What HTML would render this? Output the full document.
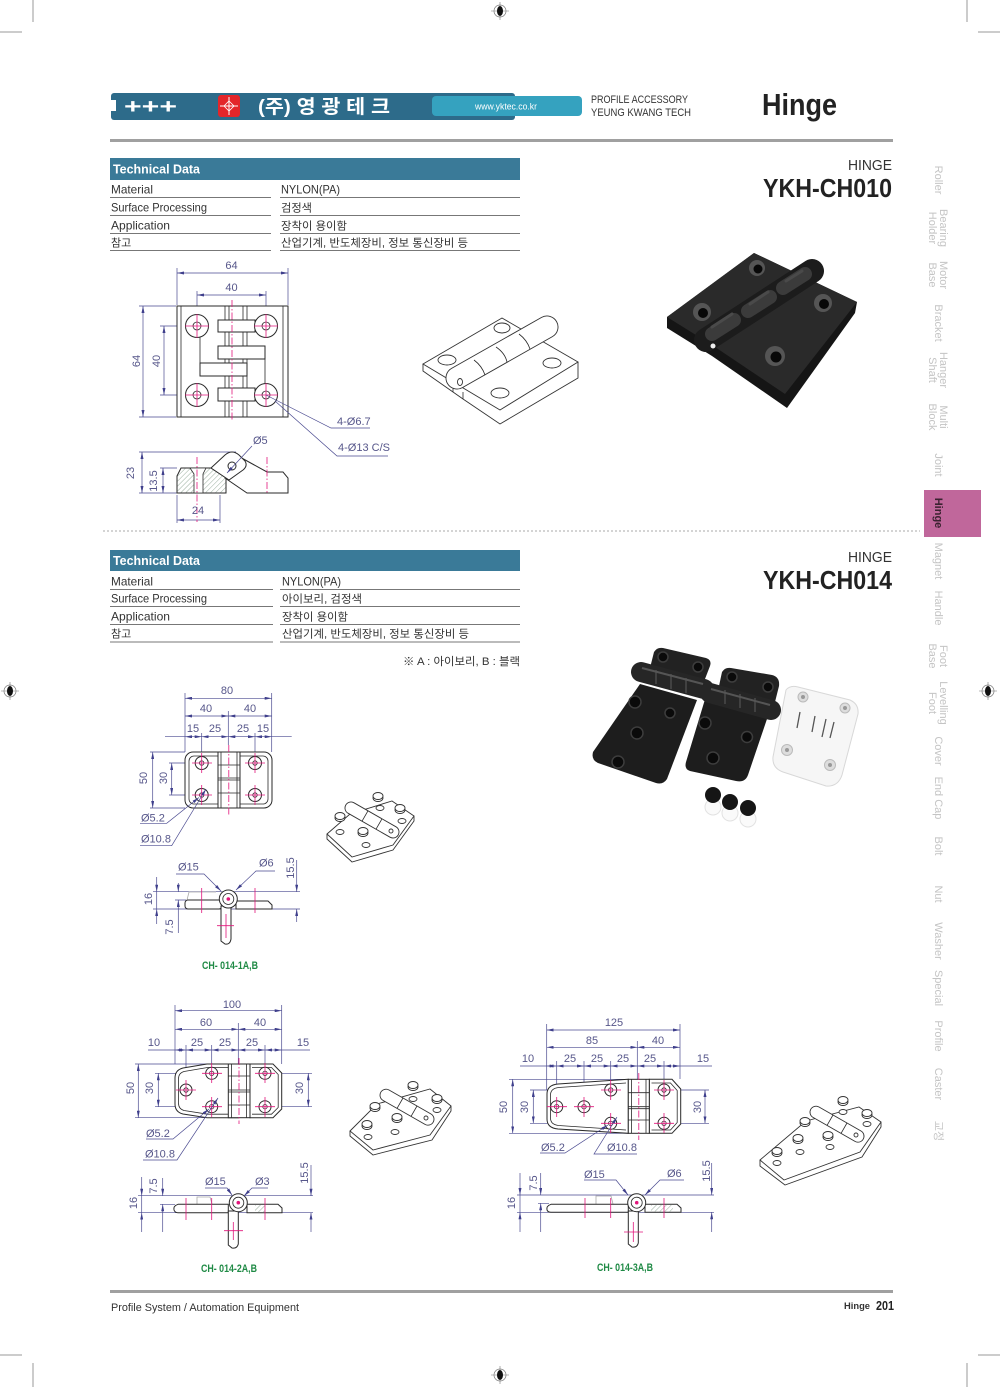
<!DOCTYPE html>
<html><head><meta charset="utf-8">
<style>
html,body{margin:0;padding:0;background:#fff;}
svg{display:block;}
</style></head><body>
<svg width="1000" height="1387" viewBox="0 0 1000 1387" xmlns="http://www.w3.org/2000/svg">
<defs>
<marker id="ar" viewBox="0 0 7 3" refX="7" refY="1.5" markerWidth="7" markerHeight="3" markerUnits="userSpaceOnUse" orient="auto-start-reverse"><path d="M0,0L7,1.5L0,3z" fill="#3f3f8c"/></marker>
<pattern id="hat" width="3.5" height="3.5" patternUnits="userSpaceOnUse" patternTransform="rotate(45)"><rect width="3.5" height="3.5" fill="#fff"/><line x1="0" y1="0" x2="0" y2="3.5" stroke="#7f9a85" stroke-width="0.8"/></pattern>
</defs>
<style>
.o{fill:#fff;stroke:#2a2a2a;stroke-width:1}
.n{fill:none;stroke:#2a2a2a;stroke-width:0.8}
.d{stroke:#4a4a90;stroke-width:0.7;fill:none}
.a{stroke:#4a4a90;stroke-width:0.7;fill:none;marker-start:url(#ar);marker-end:url(#ar)}
.e{stroke:#4a4a90;stroke-width:0.7;fill:none;marker-end:url(#ar)}
.c{stroke:#e2167c;stroke-width:0.8;fill:none}
.cd{stroke:#e2167c;stroke-width:0.8;fill:none;stroke-dasharray:7 2 1.5 2}
.t{font-family:"Liberation Sans",sans-serif;font-size:11px;fill:#56568a}
.g{font-family:"Liberation Sans",sans-serif;font-size:11px;font-weight:bold;fill:#1f8a45}
.nv{font-family:"Liberation Sans","Noto Sans CJK KR",sans-serif;font-size:11px;fill:#c4c4c4}
.tb{font-family:"Liberation Sans","Noto Sans CJK KR",sans-serif;font-size:12px;fill:#333}
.tk{font-family:"Liberation Sans","Noto Sans CJK KR",sans-serif;font-size:11px;fill:#333}
.i{fill:#fff;stroke:#333;stroke-width:0.9}
.rg{fill:#fff;stroke:#777;stroke-width:0.7}
</style>

<!-- crop marks -->
<g stroke="#999" stroke-width="1">
<line x1="33" y1="0" x2="33" y2="22"/><line x1="967" y1="0" x2="967" y2="22"/>
<line x1="0" y1="32" x2="22" y2="32"/><line x1="978" y1="32" x2="1000" y2="32"/>
<line x1="33" y1="1363" x2="33" y2="1387"/><line x1="967" y1="1363" x2="967" y2="1387"/>
<line x1="0" y1="1355" x2="22" y2="1355"/><line x1="978" y1="1355" x2="1000" y2="1355"/>
</g>
<g>
<g transform="translate(500,11)"><circle class="rg" r="6"/><path d="M-9,0H9M0,-9V9" stroke="#777" stroke-width="0.6"/><ellipse rx="3" ry="5" fill="#111"/></g>
<g transform="translate(500,1375)"><circle class="rg" r="6"/><path d="M-9,0H9M0,-9V9" stroke="#777" stroke-width="0.6"/><ellipse rx="3" ry="5" fill="#111"/></g>
<g transform="translate(10,691)"><circle class="rg" r="6"/><path d="M-9,0H9M0,-9V9" stroke="#777" stroke-width="0.6"/><ellipse rx="3" ry="5" fill="#111"/></g>
<g transform="translate(988,691)"><circle class="rg" r="6"/><path d="M-9,0H9M0,-9V9" stroke="#777" stroke-width="0.6"/><ellipse rx="3" ry="5" fill="#111"/></g>
</g>

<!-- header -->
<rect x="111" y="93" width="404" height="27" rx="3" fill="#2d6b8a"/>
<rect x="111" y="100" width="5" height="11" fill="#fff"/>
<text x="124" y="113" font-family="Liberation Sans,sans-serif" font-size="20" font-weight="bold" fill="#fff" textLength="53" lengthAdjust="spacingAndGlyphs">+++</text>
<rect x="218" y="95" width="22" height="22" rx="3" fill="#e3262a"/>
<path d="M229,97V115M220,106H238" stroke="#fff" stroke-width="1"/>
<path d="M229,101L234,106L229,111L224,106Z" fill="none" stroke="#fff" stroke-width="0.8"/>
<text x="258" y="113" font-family="Liberation Sans,'Noto Sans CJK KR',sans-serif" font-size="19" font-weight="bold" fill="#fff" textLength="132" lengthAdjust="spacingAndGlyphs">(주) 영 광 테 크</text>
<rect x="432" y="96" width="150" height="20" rx="4" fill="#35a2bf"/>
<text x="506" y="109.5" text-anchor="middle" font-family="Liberation Sans,sans-serif" font-size="9" fill="#fff" textLength="62" lengthAdjust="spacingAndGlyphs">www.yktec.co.kr</text>
<text x="591" y="103" font-family="Liberation Sans,sans-serif" font-size="11" fill="#333" textLength="97" lengthAdjust="spacingAndGlyphs">PROFILE ACCESSORY</text>
<text x="591" y="116" font-family="Liberation Sans,sans-serif" font-size="11" fill="#333" textLength="100" lengthAdjust="spacingAndGlyphs">YEUNG KWANG TECH</text>
<text x="762" y="115" font-family="Liberation Sans,sans-serif" font-size="31" font-weight="bold" fill="#222" textLength="75" lengthAdjust="spacingAndGlyphs">Hinge</text>
<rect x="110" y="139" width="783" height="3" fill="#a0a0a0"/>

<!-- table 1 -->
<rect x="110" y="158" width="410" height="22" fill="#3a7a98"/>
<text x="113" y="173.5" font-family="Liberation Sans,sans-serif" font-size="12.5" font-weight="bold" fill="#fff" textLength="87" lengthAdjust="spacingAndGlyphs">Technical Data</text>
<g class="tb">
<text x="111" y="193.5" textLength="42" lengthAdjust="spacingAndGlyphs">Material</text>
<text x="111" y="211.5" textLength="96" lengthAdjust="spacingAndGlyphs">Surface Processing</text>
<text x="111" y="229.5" textLength="59" lengthAdjust="spacingAndGlyphs">Application</text>
<text x="111" y="246.5" class="tk">참고</text>
<text x="281" y="193.5" textLength="59" lengthAdjust="spacingAndGlyphs">NYLON(PA)</text>
</g>
<g class="tk">
<text x="281" y="211.5" textLength="31" lengthAdjust="spacingAndGlyphs">검정색</text>
<text x="281" y="229.5" textLength="66" lengthAdjust="spacingAndGlyphs">장착이 용이함</text>
<text x="281" y="246.5" textLength="187" lengthAdjust="spacingAndGlyphs">산업기계, 반도체장비, 정보 통신장비 등</text>
</g>
<path d="M110,197.5H271M280,197.5H520M110,215.5H271M280,215.5H520M110,233.5H271M280,233.5H520M110,250.5H271M280,250.5H520" stroke="#777" stroke-width="1"/>
<text x="892" y="170" text-anchor="end" font-family="Liberation Sans,sans-serif" font-size="15" fill="#333" textLength="44" lengthAdjust="spacingAndGlyphs">HINGE</text>
<text x="892" y="197" text-anchor="end" font-family="Liberation Sans,sans-serif" font-size="26" font-weight="bold" fill="#222" textLength="129" lengthAdjust="spacingAndGlyphs">YKH-CH010</text>

<!-- side nav -->
<rect x="924" y="490" width="57" height="47" fill="#c0679b"/>
<g class="nv" text-anchor="middle" dominant-baseline="central">
<text transform="translate(938,180) rotate(90)">Roller</text>
<text transform="translate(943,228) rotate(90)">Bearing</text><text transform="translate(932,228) rotate(90)">Holder</text>
<text transform="translate(943,275) rotate(90)">Motor</text><text transform="translate(932,275) rotate(90)">Base</text>
<text transform="translate(938,323) rotate(90)">Bracket</text>
<text transform="translate(943,370) rotate(90)">Hanger</text><text transform="translate(932,370) rotate(90)">Shaft</text>
<text transform="translate(943,417) rotate(90)">Multi</text><text transform="translate(932,417) rotate(90)">Block</text>
<text transform="translate(938,465) rotate(90)">Joint</text>
<text transform="translate(938,561) rotate(90)">Magnet</text>
<text transform="translate(938,608) rotate(90)">Handle</text>
<text transform="translate(943,656) rotate(90)">Foot</text><text transform="translate(932,656) rotate(90)">Base</text>
<text transform="translate(943,703) rotate(90)">Levelling</text><text transform="translate(932,703) rotate(90)">Foot</text>
<text transform="translate(938,751) rotate(90)">Cover</text>
<text transform="translate(938,798) rotate(90)">End Cap</text>
<text transform="translate(938,846) rotate(90)">Bolt</text>
<text transform="translate(938,894) rotate(90)">Nut</text>
<text transform="translate(938,941) rotate(90)">Washer</text>
<text transform="translate(938,988) rotate(90)">Special</text>
<text transform="translate(938,1036) rotate(90)">Profile</text>
<text transform="translate(938,1084) rotate(90)">Caster</text>
<text transform="translate(938,1131) rotate(90)">교정</text>
</g>
<text transform="translate(938,513) rotate(90)" text-anchor="middle" dominant-baseline="central" font-family="Liberation Sans,sans-serif" font-size="11" font-weight="bold" fill="#3a2230">Hinge</text>

<!-- ===== Drawing 1 (YKH-CH010) ===== -->
<path class="d" d="M177,268V305M288,268V305M197,291V314M266,291V314M139,306H176M139,417H176M160,326H185M160,395H185"/>
<line class="a" x1="177" y1="273" x2="288" y2="273"/>
<line class="a" x1="197" y1="295" x2="266" y2="295"/>
<line class="a" x1="143" y1="306" x2="143" y2="417"/>
<line class="a" x1="164" y1="326" x2="164" y2="395"/>
<text class="t" x="231.5" y="269" text-anchor="middle">64</text>
<text class="t" x="231.5" y="291" text-anchor="middle">40</text>
<text class="t" text-anchor="middle" transform="translate(140,361) rotate(-90)">64</text>
<text class="t" text-anchor="middle" transform="translate(160,361) rotate(-90)">40</text>
<rect class="o" x="177" y="306" width="111" height="111"/>
<path class="n" d="M181,306V417M283,306V417M225,306V417M247,306V417M229,306V417M243,306V417M200,332V363M265,359V388"/>
<rect class="o" x="218" y="320" width="37" height="12"/>
<rect class="o" x="218" y="346" width="47" height="13"/>
<rect class="o" x="200" y="363" width="47" height="13"/>
<rect class="o" x="218" y="388" width="37" height="13"/>
<circle class="o" cx="197" cy="326" r="11.5"/><circle class="n" cx="197" cy="326" r="4"/>
<circle class="o" cx="266" cy="326" r="11.5"/><circle class="n" cx="266" cy="326" r="4"/>
<circle class="o" cx="197" cy="395" r="11.5"/><circle class="n" cx="197" cy="395" r="4"/>
<circle class="o" cx="266" cy="395" r="11.5"/><circle class="n" cx="266" cy="395" r="4"/>
<path class="c" d="M197,314V338M185,326H209M266,314V338M254,326H278M197,383V407M185,395H209M266,383V407M254,395H278"/>
<line class="cd" x1="232" y1="300" x2="232" y2="421"/>
<polyline class="d" points="266,395 331,428 370,428"/>
<polyline class="d" points="275,401 337,456 388,456"/>
<text class="t" x="337" y="425">4-Ø6.7</text>
<text class="t" x="338" y="451">4-Ø13 C/S</text>
<!-- side view -->
<path class="d" d="M139,452H236M139,493H177M160,468H177M177,495V523M220,495V523"/>
<line class="a" x1="142" y1="452" x2="142" y2="493"/>
<line class="a" x1="163" y1="468" x2="163" y2="493"/>
<line class="a" x1="177" y1="520" x2="220" y2="520"/>
<path d="M177,476L181,468H213L226,477V493H177Z" fill="url(#hat)" stroke="#2a2a2a" stroke-width="1"/>
<path d="M190,468H206L203,474V493H194V474Z" fill="#fff" stroke="#2a2a2a" stroke-width="0.8"/>
<path class="o" d="M238,456L267,472H283L288,478V493H247L225,478Z"/>
<path class="o" d="M211,468L225,455Q232,449 239,455L245,461Q248,466 243,470L229,480Z"/>
<circle class="o" cx="232" cy="466" r="4"/>
<path class="cd" d="M197,457V522M267,457V493"/>
<text class="t" text-anchor="middle" transform="translate(134,473) rotate(-90)">23</text>
<text class="t" text-anchor="middle" transform="translate(157,481) rotate(-90)">13.5</text>
<text class="t" x="198" y="514" text-anchor="middle">24</text>
<text class="t" x="253" y="444">Ø5</text>
<line class="e" x1="252" y1="446" x2="227" y2="473"/>

<!-- iso line drawing 1 -->
<path class="i" d="M423,364V371L453,392L463,399L500,424L578,378V362"/>
<path class="n" d="M453,392L453,385M463,399V392"/>
<path class="i" d="M423,364L502,318L578,362L500,410Z"/>
<ellipse class="i" cx="447" cy="360" rx="9" ry="5"/>
<ellipse class="i" cx="552" cy="363" rx="9" ry="5"/>
<ellipse class="i" cx="500" cy="393" rx="9" ry="5"/>
<ellipse class="i" cx="502" cy="328" rx="8" ry="5"/>
<path class="i" d="M451.6,368.4L541.6,317.4A11,11 0 0 1 552.4,336.6L462.4,387.6A11,11 0 0 1 451.6,368.4Z"/>
<path class="n" d="M474,360Q482,366 485,375M496,347Q505,353 507,362M519,334Q527,340 530,349"/>
<ellipse class="i" cx="460" cy="382" rx="2.5" ry="3.5"/>

<!-- photo 1 -->
<path d="M667,317L754,253L813,281L857,302L855,313L787,408L712,356L667,328Z" fill="#151515"/>
<path d="M667,317L754,253L857,302L785,394L712,345Z" fill="#2a2a2a"/>
<line x1="706" y1="340" x2="812" y2="271" stroke="#1c1c1c" stroke-width="24" stroke-linecap="round"/>
<path d="M712,334L734,320M748,311L770,297M783,288L805,274" stroke="#3b3b3b" stroke-width="14" stroke-linecap="round"/>
<path d="M712,327L732,314M750,304L768,292M786,281L802,271" stroke="#4a4a4a" stroke-width="3" stroke-linecap="round"/>
<circle cx="702" cy="312" r="9" fill="#555"/><circle cx="703" cy="313" r="5" fill="#080808"/>
<circle cx="757" cy="268" r="8" fill="#555"/><circle cx="758" cy="269" r="4.5" fill="#080808"/>
<circle cx="823" cy="303" r="9" fill="#555"/><circle cx="824" cy="304" r="5" fill="#080808"/>
<circle cx="775" cy="356" r="10" fill="#555"/><circle cx="776" cy="357" r="5.5" fill="#080808"/>
<circle cx="713" cy="346" r="2.5" fill="#eee"/>

<!-- separator -->
<line x1="103" y1="531" x2="920" y2="531" stroke="#aaa" stroke-width="1" stroke-dasharray="2 2"/>

<!-- table 2 -->
<rect x="110" y="550" width="410" height="21" fill="#3a7a98"/>
<text x="113" y="565" font-family="Liberation Sans,sans-serif" font-size="12.5" font-weight="bold" fill="#fff" textLength="87" lengthAdjust="spacingAndGlyphs">Technical Data</text>
<g class="tb">
<text x="111" y="585.5" textLength="42" lengthAdjust="spacingAndGlyphs">Material</text>
<text x="111" y="602.5" textLength="96" lengthAdjust="spacingAndGlyphs">Surface Processing</text>
<text x="111" y="620.5" textLength="59" lengthAdjust="spacingAndGlyphs">Application</text>
<text x="111" y="637.5" class="tk">참고</text>
<text x="282" y="585.5" textLength="59" lengthAdjust="spacingAndGlyphs">NYLON(PA)</text>
</g>
<g class="tk">
<text x="282" y="602.5" textLength="80" lengthAdjust="spacingAndGlyphs">아이보리, 검정색</text>
<text x="282" y="620.5" textLength="66" lengthAdjust="spacingAndGlyphs">장착이 용이함</text>
<text x="282" y="637.5" textLength="187" lengthAdjust="spacingAndGlyphs">산업기계, 반도체장비, 정보 통신장비 등</text>
<text x="520" y="665" text-anchor="end" textLength="117" lengthAdjust="spacingAndGlyphs">※ A : 아이보리, B : 블랙</text>
</g>
<path d="M110,589.5H273M280,589.5H520M110,606.5H273M280,606.5H520M110,624.5H273M280,624.5H520M110,642H273M280,642H520" stroke="#777" stroke-width="1"/>
<text x="892" y="562" text-anchor="end" font-family="Liberation Sans,sans-serif" font-size="15" fill="#333" textLength="44" lengthAdjust="spacingAndGlyphs">HINGE</text>
<text x="892" y="589" text-anchor="end" font-family="Liberation Sans,sans-serif" font-size="26" font-weight="bold" fill="#222" textLength="129" lengthAdjust="spacingAndGlyphs">YKH-CH014</text>

<!-- photo 2 -->
<path d="M640,684L697,700L667,779Q663,785 656,783L598,763Q591,760 593,752Z" fill="#1d1d1d"/>
<path d="M648,676L654,652Q657,647 663,648L706,658Q712,660 710,666L700,692Z" fill="#222"/>
<line x1="641" y1="672" x2="704" y2="689" stroke="#262626" stroke-width="20" stroke-linecap="round"/>
<path d="M656,670V684M671,674V689M686,678V693" stroke="#4a4a4a" stroke-width="1.5"/>
<path d="M642,668L703,684" stroke="#555" stroke-width="2"/>
<path d="M706,696L768,716L748,775Q745,783 736,781L690,771Q684,769 686,762Z" fill="#1d1d1d"/>
<path d="M716,700L722,672Q725,667 731,668L772,675Q780,677 779,686L771,718Z" fill="#222"/>
<line x1="710" y1="693" x2="771" y2="710" stroke="#262626" stroke-width="20" stroke-linecap="round"/>
<path d="M725,690V704M740,694V708M755,698V712" stroke="#4a4a4a" stroke-width="1.5"/>
<path d="M711,689L770,705" stroke="#555" stroke-width="2"/>
<g fill="#0a0a0a" stroke="#3d3d3d" stroke-width="1.5">
<circle cx="663" cy="657" r="5"/><circle cx="698" cy="667" r="5"/><circle cx="635" cy="702" r="6"/><circle cx="670" cy="713" r="5"/><circle cx="637" cy="733" r="6"/><circle cx="618" cy="762" r="6"/>
<circle cx="732" cy="677" r="5"/><circle cx="768" cy="687" r="5"/><circle cx="705" cy="723" r="6"/><circle cx="747" cy="737" r="5.5"/><circle cx="713" cy="758" r="6"/>
</g>
<path d="M786,690Q790,685 798,687L850,700Q859,704 858,714L842,775Q838,787 826,786L783,772Q772,768 773,757Z" fill="#f6f6f6" stroke="#d8d8d8" stroke-width="1"/>
<path d="M800,712L797,728M815,716L812,732M826,719L822,737M834,722L830,738" stroke="#555" stroke-width="1.3"/>
<g fill="#ddd" stroke="#bbb" stroke-width="1"><circle cx="803" cy="697" r="5"/><circle cx="845" cy="708" r="5"/><circle cx="787" cy="750" r="5.5"/><circle cx="830" cy="765" r="5.5"/></g>
<g fill="#999"><circle cx="803" cy="697" r="2"/><circle cx="845" cy="708" r="2"/><circle cx="787" cy="750" r="2"/><circle cx="830" cy="765" r="2"/></g>
<g fill="#fafafa" stroke="#e2e2e2" stroke-width="1"><circle cx="713" cy="807" r="8"/><circle cx="730" cy="813" r="8"/><circle cx="748" cy="819" r="8"/></g>
<g fill="#151515"><circle cx="713" cy="795" r="8"/><circle cx="730" cy="802" r="8"/><circle cx="748" cy="808" r="8"/></g>

<!-- ===== CH-014-1 ===== -->
<path class="d" d="M185,693V752M271.7,693V752M228.3,711V745M201.7,733V757M255,733V757M165,736.7H185M271.7,736.7H291.7M150,752H185M150,808H185M169,763H196M169,795H196"/>
<line class="a" x1="185" y1="698.3" x2="271.7" y2="698.3"/>
<line class="a" x1="185" y1="716" x2="228.3" y2="716"/>
<line class="a" x1="228.3" y1="716" x2="271.7" y2="716"/>
<line class="a" x1="185" y1="736.7" x2="201.7" y2="736.7"/>
<line class="a" x1="201.7" y1="736.7" x2="228.3" y2="736.7"/>
<line class="a" x1="228.3" y1="736.7" x2="255" y2="736.7"/>
<line class="a" x1="255" y1="736.7" x2="271.7" y2="736.7"/>
<line class="a" x1="152.7" y1="752" x2="152.7" y2="808"/>
<line class="a" x1="171.7" y1="763" x2="171.7" y2="795"/>
<g class="t" text-anchor="middle">
<text x="227" y="694">80</text><text x="206" y="712">40</text><text x="250" y="712">40</text>
<text x="193" y="732">15</text><text x="215" y="732">25</text><text x="243" y="732">25</text><text x="263" y="732">15</text>
<text transform="translate(147,778) rotate(-90)">50</text>
<text transform="translate(167,778) rotate(-90)">30</text>
</g>
<rect class="o" x="185" y="752" width="87" height="56" rx="8"/>
<rect class="n" x="189" y="756" width="79" height="48" rx="5"/>
<rect class="o" x="218" y="752" width="22" height="56"/>
<path class="n" d="M221,752V808M237,752V808M218,765H240M218,778H240M218,780H240M218,793H240"/>
<g>
<circle class="o" cx="201.7" cy="763" r="6.5"/><circle class="n" cx="201.7" cy="763" r="2.2"/>
<circle class="o" cx="255" cy="763" r="6.5"/><circle class="n" cx="255" cy="763" r="2.2"/>
<circle class="o" cx="201.7" cy="795" r="6.5"/><circle class="n" cx="201.7" cy="795" r="2.2"/>
<circle class="o" cx="255" cy="795" r="6.5"/><circle class="n" cx="255" cy="795" r="2.2"/>
</g>
<path class="c" d="M201.7,753V773M192,763H212M255,753V773M245,763H265M201.7,785V805M192,795H212M255,785V805M245,795H265"/>
<line class="cd" x1="228.8" y1="745" x2="228.8" y2="815"/>
<polyline class="e" points="140,823.3 166.7,823.3 199,797.5"/>
<polyline class="e" points="140,845.7 171.7,845.7 206,789"/>
<text class="t" x="141" y="821.5">Ø5.2</text>
<text class="t" x="141" y="842.5">Ø10.8</text>
<!-- side -->
<path class="d" d="M153,891.7H300M175,900H186M153,909H300"/>
<line class="e" x1="156.7" y1="877" x2="156.7" y2="891.7"/>
<line class="e" x1="156.7" y1="924" x2="156.7" y2="909"/>
<line class="d" x1="156.7" y1="891.7" x2="156.7" y2="909"/>
<line class="e" x1="178.3" y1="883" x2="178.3" y2="891.7"/>
<line class="e" x1="178.3" y1="933" x2="178.3" y2="900"/>
<line class="e" x1="296.7" y1="860" x2="296.7" y2="891.7"/>
<line class="e" x1="296.7" y1="922" x2="296.7" y2="909"/>
<g class="t" text-anchor="middle">
<text transform="translate(152,899) rotate(-90)">16</text>
<text transform="translate(173,927) rotate(-90)">7.5</text>
<text transform="translate(294,868) rotate(-90)">15.5</text>
</g>
<path d="M187,900L189,892H216" fill="none" stroke="#aaa" stroke-width="0.8"/>
<rect class="o" x="185" y="900" width="37" height="9" rx="3"/>
<path class="o" d="M236,901H268L272,905V909H236Z"/>
<path class="o" d="M221,906H231V939Q230,945 225,944L221,941Z"/>
<circle class="o" cx="228.3" cy="899" r="9"/>
<circle class="n" cx="228.3" cy="899" r="5.5"/>
<circle cx="228.3" cy="899" r="1.8" fill="#e2167c"/>
<path class="c" d="M201.7,888V913M255,888V913M226,914V938M217,925.7H234"/>
<polyline class="e" points="176,874 204,874 221,891"/>
<polyline class="e" points="275,871 256,871 236,890"/>
<text class="t" x="178" y="870.5">Ø15</text>
<text class="t" x="259" y="866.5">Ø6</text>
<text class="g" x="230" y="969" text-anchor="middle" textLength="56" lengthAdjust="spacingAndGlyphs">CH- 014-1A,B</text>

<!-- iso 2 -->
<path class="i" d="M327,834V839L352,862L393,850L414,821V816"/>
<path class="i" d="M327,834L350,814L392,801L414,816L393,845L352,857Z"/>
<ellipse class="i" cx="340" cy="832" rx="4" ry="2.5"/><ellipse class="i" cx="402" cy="821" rx="4" ry="2.5"/><ellipse class="i" cx="366" cy="845" rx="4" ry="2.5"/><ellipse class="i" cx="380" cy="808" rx="4" ry="2.5"/>
<path class="i" d="M354,802.8L396,826.8A6,6 0 0 1 390,837.2L348,813.2A6,6 0 0 1 354,802.8Z"/>
<path class="n" d="M368,810.8L362,821.2M382,818.8L376,829.2"/>
<circle class="i" cx="391" cy="831" r="2"/>
<g><ellipse class="i" cx="340" cy="818" rx="5" ry="3.5"/><ellipse class="i" cx="340" cy="816" rx="5" ry="3.5"/>
<ellipse class="i" cx="378" cy="798" rx="5" ry="3.5"/><ellipse class="i" cx="378" cy="796" rx="5" ry="3.5"/>
<ellipse class="i" cx="400" cy="810" rx="5" ry="3.5"/><ellipse class="i" cx="400" cy="808" rx="5" ry="3.5"/>
<ellipse class="i" cx="363" cy="833" rx="5" ry="3.5"/><ellipse class="i" cx="363" cy="831" rx="5" ry="3.5"/></g>

<!-- ===== CH-014-2 ===== -->
<path class="d" d="M175,1005V1064M281.7,1005V1064M238.3,1023V1064M186,1045V1096M211.7,1045V1079M265,1045V1079M148,1050H175M281.7,1050H310M135,1064H228M135,1117.7H228M155,1073.3H206M155,1106.7H206M271,1073.3H312M271,1106.7H312"/>
<line class="a" x1="175" y1="1010.7" x2="281.7" y2="1010.7"/>
<line class="a" x1="175" y1="1029.3" x2="238.3" y2="1029.3"/>
<line class="a" x1="238.3" y1="1029.3" x2="281.7" y2="1029.3"/>
<line class="a" x1="175" y1="1050" x2="186" y2="1050"/>
<line class="a" x1="186" y1="1050" x2="211.7" y2="1050"/>
<line class="a" x1="211.7" y1="1050" x2="238.3" y2="1050"/>
<line class="a" x1="238.3" y1="1050" x2="265" y2="1050"/>
<line class="a" x1="265" y1="1050" x2="281.7" y2="1050"/>
<line class="a" x1="138.3" y1="1064" x2="138.3" y2="1117.7"/>
<line class="a" x1="158.3" y1="1073.3" x2="158.3" y2="1106.7"/>
<line class="a" x1="308.3" y1="1073.3" x2="308.3" y2="1106.7"/>
<g class="t" text-anchor="middle">
<text x="232" y="1008">100</text><text x="206" y="1026">60</text><text x="260" y="1026">40</text>
<text x="154" y="1046">10</text><text x="197" y="1046">25</text><text x="225" y="1046">25</text><text x="252" y="1046">25</text><text x="303" y="1046">15</text>
<text transform="translate(134,1088) rotate(-90)">50</text>
<text transform="translate(153,1088) rotate(-90)">30</text>
<text transform="translate(303,1088) rotate(-90)">30</text>
</g>
<path class="o" d="M238.3,1064H207L183,1068Q175,1070 175,1078V1104Q175,1112 183,1114L207,1117.7H238.3Z"/>
<path class="n" d="M236,1067.5H207.5L184,1071.5Q178.5,1073 178.5,1079V1103Q178.5,1109 184,1110.5L207.5,1114.2H236"/>
<path class="o" d="M250,1064H273L281.7,1073V1109L273,1117.7H250Z"/>
<path class="n" d="M252,1067.5H271.5L278.2,1074.5V1107.5L271.5,1114.2H252"/>
<rect class="o" x="228.3" y="1064" width="21.7" height="53.7"/>
<path class="n" d="M231.5,1064V1117.7M246.5,1064V1117.7M228.3,1076H250M228.3,1090H250M228.3,1092H250M228.3,1105H250"/>
<g>
<circle class="o" cx="211.7" cy="1073.3" r="6"/><circle class="n" cx="211.7" cy="1073.3" r="2.2"/>
<circle class="o" cx="265" cy="1073.3" r="6"/><circle class="n" cx="265" cy="1073.3" r="2.2"/>
<circle class="o" cx="186" cy="1090" r="6"/><circle class="n" cx="186" cy="1090" r="2.2"/>
<circle class="o" cx="211.7" cy="1106.7" r="6"/><circle class="n" cx="211.7" cy="1106.7" r="2.2"/>
<circle class="o" cx="265" cy="1106.7" r="6"/><circle class="n" cx="265" cy="1106.7" r="2.2"/>
</g>
<path class="c" d="M211.7,1063V1083M202,1073.3H222M265,1063V1083M255,1073.3H275M186,1080V1100M176,1090H196M211.7,1097V1117M202,1106.7H222M265,1097V1117M255,1106.7H275"/>
<line class="cd" x1="239" y1="1058" x2="239" y2="1124"/>
<polyline class="e" points="146,1139 173,1139 209,1109"/>
<polyline class="e" points="143,1160 177,1160 218,1098"/>
<text class="t" x="146" y="1137">Ø5.2</text>
<text class="t" x="145" y="1157.5">Ø10.8</text>
<!-- side -->
<path class="d" d="M138,1195.7H313M160,1204.3H175M138,1212.7H313"/>
<line class="e" x1="141.7" y1="1177" x2="141.7" y2="1195.7"/>
<line class="e" x1="141.7" y1="1232" x2="141.7" y2="1212.7"/>
<line class="d" x1="141.7" y1="1195.7" x2="141.7" y2="1212.7"/>
<line class="e" x1="162.7" y1="1178" x2="162.7" y2="1195.7"/>
<line class="e" x1="162.7" y1="1232" x2="162.7" y2="1204.3"/>
<line class="e" x1="311" y1="1165" x2="311" y2="1195.7"/>
<line class="e" x1="311" y1="1232" x2="311" y2="1212.7"/>
<g class="t" text-anchor="middle">
<text transform="translate(137,1203) rotate(-90)">16</text>
<text transform="translate(157,1186) rotate(-90)">7.5</text>
<text transform="translate(308,1173) rotate(-90)">15.5</text>
</g>
<path d="M197,1204V1197H210L212,1204" fill="none" stroke="#aaa" stroke-width="0.8"/>
<path class="o" d="M228.3,1204.3H178Q173,1206 174,1210Q175,1212.7 178,1212.7H228.3Z"/>
<path class="o" d="M247,1204.3H278L282,1208V1212.7H247Z"/>
<rect x="255" y="1205" width="10" height="7" fill="url(#hat)"/>
<path class="o" d="M228.3,1211H238.3V1244Q237,1249 232,1248L228.3,1245Z"/>
<circle class="o" cx="238.3" cy="1202.7" r="9"/>
<circle class="n" cx="238.3" cy="1202.7" r="5.5"/>
<circle cx="238.3" cy="1202.7" r="1.8" fill="#e2167c"/>
<path class="c" d="M186,1198V1220M211.7,1198V1220M265,1198V1220M224,1230.7H243M233.3,1222V1240"/>
<polyline class="e" points="205,1188 227,1188 232,1195"/>
<polyline class="e" points="268,1188 252,1188 244,1196"/>
<text class="t" x="205" y="1185">Ø15</text>
<text class="t" x="255" y="1185">Ø3</text>
<text class="g" x="229" y="1272" text-anchor="middle" textLength="56" lengthAdjust="spacingAndGlyphs">CH- 014-2A,B</text>

<!-- iso 3 -->
<path class="i" d="M350,1131V1136L373,1155L432,1140L451,1111V1106"/>
<path class="i" d="M350,1131L377,1104L430,1089L451,1106L430,1135L373,1150Z"/>
<ellipse class="i" cx="413" cy="1099" rx="4" ry="2.5"/><ellipse class="i" cx="437" cy="1110" rx="4" ry="2.5"/><ellipse class="i" cx="368" cy="1137" rx="4" ry="2.5"/><ellipse class="i" cx="395" cy="1132" rx="4" ry="2.5"/>
<path class="i" d="M389,1090L431,1114A6,6 0 0 1 425,1124.4L383,1100.4A6,6 0 0 1 389,1090Z"/>
<path class="n" d="M403,1098L397,1108.4M417,1106L411,1116.4"/>
<circle class="i" cx="426" cy="1118" r="2"/>
<g>
<ellipse class="i" cx="413" cy="1087" rx="5" ry="3.5"/><ellipse class="i" cx="413" cy="1085" rx="5" ry="3.5"/>
<ellipse class="i" cx="437" cy="1100" rx="5" ry="3.5"/><ellipse class="i" cx="437" cy="1098" rx="5" ry="3.5"/>
<ellipse class="i" cx="375" cy="1108" rx="5" ry="3.5"/><ellipse class="i" cx="375" cy="1106" rx="5" ry="3.5"/>
<ellipse class="i" cx="367" cy="1126" rx="5" ry="3.5"/><ellipse class="i" cx="367" cy="1124" rx="5" ry="3.5"/>
<ellipse class="i" cx="397" cy="1119" rx="5" ry="3.5"/><ellipse class="i" cx="397" cy="1117" rx="5" ry="3.5"/>
</g>

<!-- ===== CH-014-3 ===== -->
<path class="d" d="M546.7,1024V1090M680,1024V1079M637.3,1041V1079M556.7,1061V1113M584,1061V1113M610.7,1061V1096M664,1061V1096M520,1066H546.7M680,1066H712M509,1079.3H628M509,1133.3H628M530,1090H605M530,1123.3H605M660,1090H709M660,1123.3H709"/>
<line class="a" x1="546.7" y1="1030" x2="680" y2="1030"/>
<line class="a" x1="546.7" y1="1047.3" x2="637.3" y2="1047.3"/>
<line class="a" x1="637.3" y1="1047.3" x2="680" y2="1047.3"/>
<line class="a" x1="546.7" y1="1066" x2="556.7" y2="1066"/>
<line class="a" x1="556.7" y1="1066" x2="584" y2="1066"/>
<line class="a" x1="584" y1="1066" x2="610.7" y2="1066"/>
<line class="a" x1="610.7" y1="1066" x2="637.3" y2="1066"/>
<line class="a" x1="637.3" y1="1066" x2="664" y2="1066"/>
<line class="a" x1="664" y1="1066" x2="680" y2="1066"/>
<line class="a" x1="512.7" y1="1079.3" x2="512.7" y2="1133.3"/>
<line class="a" x1="533.3" y1="1090" x2="533.3" y2="1123.3"/>
<line class="a" x1="705" y1="1090" x2="705" y2="1123.3"/>
<g class="t" text-anchor="middle">
<text x="614" y="1026">125</text><text x="592" y="1044">85</text><text x="658" y="1044">40</text>
<text x="528" y="1062">10</text><text x="570" y="1062">25</text><text x="597" y="1062">25</text><text x="623" y="1062">25</text><text x="650" y="1062">25</text><text x="703" y="1062">15</text>
<text transform="translate(507,1107) rotate(-90)">50</text>
<text transform="translate(528,1107) rotate(-90)">30</text>
<text transform="translate(701,1107) rotate(-90)">30</text>
</g>
<path class="o" d="M628.3,1079.3L558,1084Q547,1085 547,1094V1119Q547,1128 558,1129L628.3,1133.3Z"/>
<path class="n" d="M626,1083L558.5,1087.5Q550.5,1088.5 550.5,1095V1118Q550.5,1124.5 558.5,1125.5L626,1130"/>
<path class="o" d="M649.3,1079.3H672L680.7,1089V1124L672,1133.3H649.3Z"/>
<path class="n" d="M651.5,1083H670.5L677.2,1090.5V1122.5L670.5,1130H651.5"/>
<rect class="o" x="628.3" y="1079.3" width="21" height="54"/>
<path class="n" d="M631.5,1079.3V1133.3M646,1079.3V1133.3M628.3,1092.7H649.3M628.3,1106.7H649.3M628.3,1108.7H649.3M628.3,1120H649.3"/>
<g>
<circle class="o" cx="556.7" cy="1106.7" r="6"/><circle class="n" cx="556.7" cy="1106.7" r="2.2"/>
<circle class="o" cx="584" cy="1106.7" r="6"/><circle class="n" cx="584" cy="1106.7" r="2.2"/>
<circle class="o" cx="610.7" cy="1090" r="6"/><circle class="n" cx="610.7" cy="1090" r="2.2"/>
<circle class="o" cx="610.7" cy="1123.3" r="6"/><circle class="n" cx="610.7" cy="1123.3" r="2.2"/>
<circle class="o" cx="664" cy="1090" r="6"/><circle class="n" cx="664" cy="1090" r="2.2"/>
<circle class="o" cx="664" cy="1123.3" r="6"/><circle class="n" cx="664" cy="1123.3" r="2.2"/>
</g>
<path class="c" d="M556.7,1097V1117M547,1106.7H567M584,1097V1117M574,1106.7H594M610.7,1080V1100M601,1090H621M610.7,1113V1133M601,1123.3H621M664,1080V1100M654,1090H674M664,1113V1133M654,1123.3H674"/>
<line class="cd" x1="638.8" y1="1073" x2="638.8" y2="1140"/>
<polyline class="e" points="540,1153 565,1153 608,1125"/>
<polyline class="e" points="637,1154 594,1154 617,1117"/>
<text class="t" x="541" y="1151">Ø5.2</text>
<text class="t" x="607" y="1151">Ø10.8</text>
<!-- side -->
<path class="d" d="M517,1195H714M538,1203.3H549M517,1212.3H714"/>
<line class="e" x1="520" y1="1173" x2="520" y2="1195"/>
<line class="e" x1="520" y1="1232" x2="520" y2="1212.3"/>
<line class="d" x1="520" y1="1195" x2="520" y2="1212.3"/>
<line class="e" x1="540.7" y1="1173" x2="540.7" y2="1195"/>
<line class="e" x1="540.7" y1="1232" x2="540.7" y2="1203.3"/>
<line class="e" x1="711.7" y1="1163" x2="711.7" y2="1195"/>
<line class="e" x1="711.7" y1="1232" x2="711.7" y2="1212.3"/>
<g class="t" text-anchor="middle">
<text transform="translate(515,1203) rotate(-90)">16</text>
<text transform="translate(537,1183) rotate(-90)">7.5</text>
<text transform="translate(710,1171) rotate(-90)">15.5</text>
</g>
<path d="M596,1204V1196H611L613,1204" fill="none" stroke="#aaa" stroke-width="0.8"/>
<path class="o" d="M628.3,1204.3H551Q546,1206 547,1210Q548,1212.3 551,1212.3H628.3Z"/>
<path class="o" d="M645,1204.3H677L681,1208V1212.3H645Z"/>
<rect x="651" y="1205" width="22" height="6.5" fill="url(#hat)"/>
<path class="o" d="M628.3,1211H638.3V1243Q637,1248 632,1247L628.3,1244Z"/>
<circle class="o" cx="636.7" cy="1202.7" r="9"/>
<circle class="n" cx="636.7" cy="1202.7" r="5.5"/>
<circle cx="636.7" cy="1202.7" r="1.8" fill="#e2167c"/>
<path class="c" d="M585,1198V1218M610.7,1198V1218M664,1198V1218M624,1232H643M633.3,1222V1242"/>
<polyline class="e" points="584,1180 616,1180 628,1195"/>
<polyline class="e" points="684,1180 660,1180 645,1195"/>
<text class="t" x="584" y="1178">Ø15</text>
<text class="t" x="667" y="1177">Ø6</text>
<text class="g" x="625" y="1271" text-anchor="middle" textLength="56" lengthAdjust="spacingAndGlyphs">CH- 014-3A,B</text>

<!-- iso 4 -->
<path class="i" d="M760,1160V1166L785,1185L862,1157L881,1127V1122"/>
<path class="i" d="M760,1160L806,1121L859,1107L881,1122L860,1152L784,1180Z"/>
<ellipse class="i" cx="843" cy="1112" rx="4" ry="2.5"/><ellipse class="i" cx="867" cy="1124" rx="4" ry="2.5"/><ellipse class="i" cx="800" cy="1152" rx="4" ry="2.5"/><ellipse class="i" cx="777" cy="1163" rx="4" ry="2.5"/><ellipse class="i" cx="830" cy="1147" rx="4" ry="2.5"/>
<path class="i" d="M819,1107L861,1131A6,6 0 0 1 855,1141.4L813,1117.4A6,6 0 0 1 819,1107Z"/>
<path class="n" d="M833,1115L827,1125.4M847,1123L841,1133.4"/>
<circle class="i" cx="856" cy="1135" r="2"/>
<g>
<ellipse class="i" cx="843" cy="1102" rx="5" ry="3.5"/><ellipse class="i" cx="843" cy="1100" rx="5" ry="3.5"/>
<ellipse class="i" cx="867" cy="1115" rx="5" ry="3.5"/><ellipse class="i" cx="867" cy="1113" rx="5" ry="3.5"/>
<ellipse class="i" cx="805" cy="1123" rx="5" ry="3.5"/><ellipse class="i" cx="805" cy="1121" rx="5" ry="3.5"/>
<ellipse class="i" cx="798" cy="1140" rx="5" ry="3.5"/><ellipse class="i" cx="798" cy="1138" rx="5" ry="3.5"/>
<ellipse class="i" cx="828" cy="1137" rx="5" ry="3.5"/><ellipse class="i" cx="828" cy="1135" rx="5" ry="3.5"/>
<ellipse class="i" cx="777" cy="1153" rx="5" ry="3.5"/><ellipse class="i" cx="777" cy="1151" rx="5" ry="3.5"/>
</g>

<!-- footer -->
<rect x="110" y="1290" width="783" height="3" fill="#a0a0a0"/>
<text x="111" y="1311" font-family="Liberation Sans,sans-serif" font-size="11" fill="#333" textLength="188" lengthAdjust="spacingAndGlyphs">Profile System / Automation Equipment</text>
<text x="844" y="1309" font-family="Liberation Sans,sans-serif" font-size="9" font-weight="bold" fill="#333" textLength="26" lengthAdjust="spacingAndGlyphs">Hinge</text>
<text x="876" y="1310" font-family="Liberation Sans,sans-serif" font-size="13" font-weight="bold" fill="#222" textLength="18" lengthAdjust="spacingAndGlyphs">201</text>
</svg>
</body></html>
